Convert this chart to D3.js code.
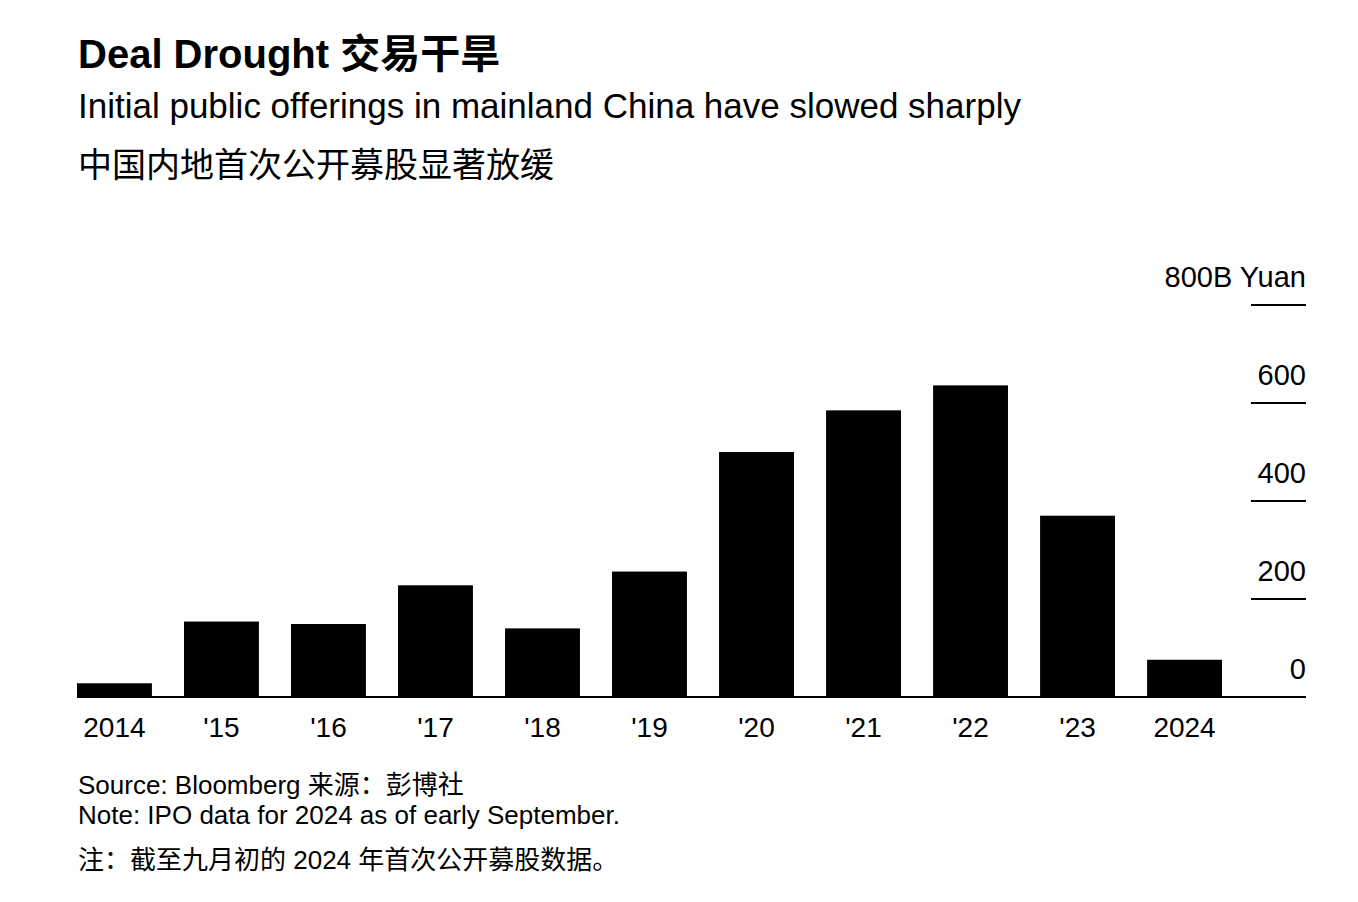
<!DOCTYPE html>
<html>
<head>
<meta charset="utf-8">
<script src="https://cdn.jsdelivr.net/npm/d3@7"></script>
<style>
  body { margin: 0; background: #fff; }
  text { font-family: "Liberation Sans", Arial, "Noto Sans CJK SC", sans-serif; fill: #000; }
</style>
</head>
<body>
<svg id="chart" width="1358" height="902"></svg>
<script>
var years = ["2014", "'15", "'16", "'17", "'18", "'19", "'20", "'21", "'22", "'23", "2024"];
var ipoValues = [28, 154, 149, 228, 140, 256, 500, 585, 636, 370, 76];
var yTicks = [0, 200, 400, 600, 800];
var yTickLabels = ["0", "200", "400", "600", "800B Yuan"];

var svg = d3.select("#chart");

var x = d3.scaleBand()
    .domain(years)
    .range([77, 1222])
    .paddingInner(0.3)
    .paddingOuter(0);

var y = d3.scaleLinear()
    .domain([0, 800])
    .range([697, 305]);

// titles
svg.append("text")
    .attr("x", 78).attr("y", 68)
    .attr("font-size", "40px").attr("font-weight", "bold")
    .text("Deal Drought 交易干旱");
svg.append("text")
    .attr("x", 78).attr("y", 118)
    .attr("font-size", "35px")
    .text("Initial public offerings in mainland China have slowed sharply");
svg.append("text")
    .attr("x", 78).attr("y", 177)
    .attr("font-size", "34px")
    .text("中国内地首次公开募股显著放缓");

// bars
svg.selectAll("rect.bar")
    .data(ipoValues)
    .enter().append("rect")
    .attr("class", "bar")
    .attr("x", function(d, i) { return x(years[i]); })
    .attr("width", x.bandwidth())
    .attr("y", function(d) { return y(d); })
    .attr("height", function(d) { return y(0) - y(d); })
    .attr("fill", "#000");

// right axis: short tick lines with labels above
var tickG = svg.selectAll("g.ytick")
    .data(yTicks)
    .enter().append("g")
    .attr("class", "ytick")
    .attr("transform", function(d) { return "translate(0," + y(d) + ")"; });

tickG.filter(function(d) { return d > 0; })
    .append("line")
    .attr("x1", 1251).attr("x2", 1306)
    .attr("stroke", "#000").attr("stroke-width", 2);

tickG.append("text")
    .attr("x", 1306).attr("y", -18)
    .attr("text-anchor", "end")
    .attr("font-size", "29px")
    .text(function(d, i) { return yTickLabels[i]; });

// baseline
svg.append("line")
    .attr("x1", 77).attr("x2", 1306)
    .attr("y1", y(0)).attr("y2", y(0))
    .attr("stroke", "#000").attr("stroke-width", 2);

// x labels
svg.selectAll("text.xlab")
    .data(years)
    .enter().append("text")
    .attr("class", "xlab")
    .attr("x", function(d) { return x(d) + x.bandwidth() / 2; })
    .attr("y", 737)
    .attr("text-anchor", "middle")
    .attr("font-size", "28px")
    .text(function(d) { return d; });

// footer
svg.append("text")
    .attr("x", 78).attr("y", 794)
    .attr("font-size", "26px")
    .text("Source: Bloomberg 来源：彭博社");
svg.append("text")
    .attr("x", 78).attr("y", 824)
    .attr("font-size", "26px")
    .text("Note: IPO data for 2024 as of early September.");
svg.append("text")
    .attr("x", 78).attr("y", 869)
    .attr("font-size", "26px")
    .text("注：截至九月初的 2024 年首次公开募股数据。");
</script>
</body>
</html>
